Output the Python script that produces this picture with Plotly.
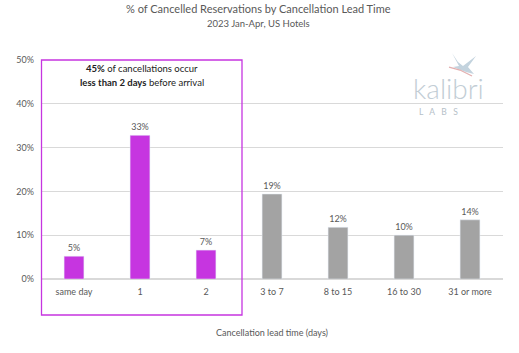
import plotly.graph_objects as go

categories = ["same day", "1", "2", "3 to 7", "8 to 15", "16 to 30", "31 or more"]
values = [0.052, 0.328, 0.066, 0.194, 0.118, 0.100, 0.135]
labels = ["5%", "33%", "7%", "19%", "12%", "10%", "14%"]
highlight = [True, True, True, False, False, False, False]

PURPLE = "#c635e0"
GRAY = "#a3a3a3"
TXT = "#595959"
FONT = "Lato"

W, H = 519, 353
L, R, T, B = 41, 16, 60, 74
pw, ph = W - L - R, H - T - B

def px(x, y):
    return (x - L) / pw, (H - B - y) / ph

fig = go.Figure()
fig.add_trace(go.Bar(
    x=categories, y=values,
    marker_color=[PURPLE if h else GRAY for h in highlight],
    width=0.3,
    text=labels, textposition="outside",
    textfont=dict(size=9, color=TXT, family=FONT),
    cliponaxis=False,
    hoverinfo="skip",
))

# highlight box (paper refs so it is not clipped)
bx0, by0 = px(41.5, 315)
bx1, by1 = px(242, 60)
fig.add_shape(type="rect", xref="paper", yref="paper", x0=bx0, x1=bx1, y0=by0, y1=by1,
              line=dict(color=PURPLE, width=1.3), fillcolor="rgba(0,0,0,0)")

# bird logo (approximate)
def path(pts, close=True):
    s = ""
    for i, (x, y) in enumerate(pts):
        a, b = px(x, y)
        s += ("M" if i == 0 else "L") + f"{a:.4f},{b:.4f} "
    return s + ("Z" if close else "")

bird = [(452, 53), (458, 62), (463, 66), (476, 56), (468, 67), (474, 74), (466, 72), (458, 69), (453, 67), (459, 66)]
fig.add_shape(type="path", xref="paper", yref="paper", path=path(bird),
              fillcolor="#c3d3de", line=dict(width=0), layer="above")
fig.add_shape(type="path", xref="paper", yref="paper",
              path=path([(449, 67), (460, 70), (472, 76)], close=False),
              line=dict(color="#e3b0b0", width=1.3), layer="above")

annotations = [
    dict(text="% of Cancelled Reservations by Cancellation Lead Time", x=258, y=9, size=11),
    dict(text="2023 Jan-Apr, US Hotels", x=258, y=23, size=9.5),
    dict(text="<b>45%</b> of cancellations occur", x=142, y=68, size=9.5, color="#222222"),
    dict(text="<b>less than 2 days</b> before arrival", x=142, y=82, size=9.5, color="#222222"),
    dict(text="Cancellation lead time (days)", x=272, y=332, size=9),
]
for a in annotations:
    xx, yy = px(a["x"], a["y"])
    fig.add_annotation(text=a["text"], x=xx, y=yy, xref="paper", yref="paper",
                       showarrow=False, xanchor="center", yanchor="middle",
                       font=dict(size=a["size"], color=a.get("color", TXT), family=FONT))

xx, yy = px(448, 88)
fig.add_annotation(text="kalibri", x=xx, y=yy, xref="paper", yref="paper", showarrow=False,
                   xanchor="center", yanchor="middle",
                   font=dict(size=28, color="#c2cdd5", family=FONT, weight=300))
xx, yy = px(438, 112)
fig.add_annotation(text="L   A   B   S", x=xx, y=yy, xref="paper", yref="paper", showarrow=False,
                   xanchor="center", yanchor="middle",
                   font=dict(size=8.5, color="#b5c0c8", family=FONT))

fig.update_layout(
    width=W, height=H,
    margin=dict(l=L, r=R, t=T, b=B),
    paper_bgcolor="white", plot_bgcolor="white",
    showlegend=False,
    font=dict(family=FONT, color=TXT, size=9),
    xaxis=dict(showgrid=False, showline=False, ticks="", tickfont=dict(size=9, color=TXT),
               range=[-0.5, 6.5], ticklabelstandoff=6),
    yaxis=dict(range=[0, 0.5], dtick=0.1, tickformat=".0%", showgrid=True,
               gridcolor="#d9d9d9", gridwidth=1, zeroline=True, zerolinecolor="#d9d9d9",
               ticks="", tickfont=dict(size=9, color=TXT), ticklabelstandoff=6),
    bargap=0.7,
)

fig.write_html("out.html")
